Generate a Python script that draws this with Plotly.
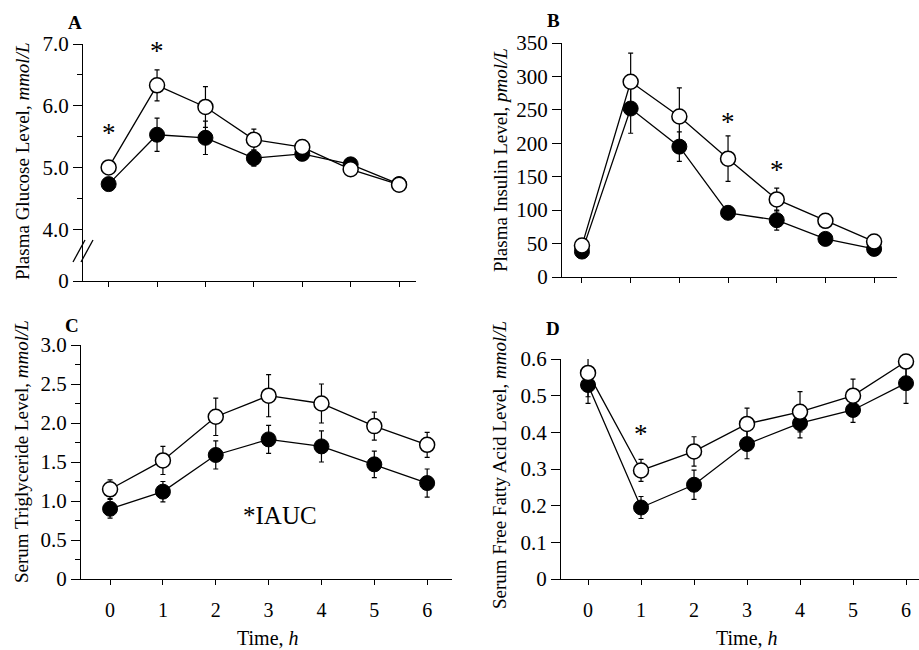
import plotly.graph_objects as go

W, H = 919, 650
FONT = "Liberation Serif, Times New Roman, serif"

hours = [0, 1, 2, 3, 4, 5, 6]
hour_labels = ["0", "1", "2", "3", "4", "5", "6"]

# Panel A - plasma glucose (mmol/L)
glu_open = [5.00, 6.33, 5.98, 5.45, 5.33, 4.97, 4.72]
glu_open_err = [0.05, 0.25, 0.33, 0.17, 0.06, 0.05, 0.04]
glu_fill = [4.73, 5.53, 5.48, 5.15, 5.22, 5.05, 4.73]
glu_fill_err = [0.05, 0.27, 0.27, 0.13, 0.10, 0.05, 0.04]
glu_ticks = [4.0, 5.0, 6.0, 7.0]
glu_ticktext = ["4.0", "5.0", "6.0", "7.0"]
glu_axis_zero = 3.16  # where the broken axis shows "0"
glu_star_t = [0, 1]
glu_star_y = [5.55, 6.88]

# Panel B - plasma insulin (pmol/L)
ins_open = [47, 292, 240, 177, 116, 84, 53]
ins_open_err = [5, 43, 43, 34, 17, 10, 5]
ins_fill = [38, 252, 195, 96, 85, 57, 42]
ins_fill_err = [4, 37, 22, 8, 15, 7, 4]
ins_ticks = [0, 50, 100, 150, 200, 250, 300, 350]
ins_star_t = [3, 4]
ins_star_y = [232, 160]

# Panel C - serum triglyceride (mmol/L)
tg_open = [1.15, 1.52, 2.08, 2.35, 2.25, 1.96, 1.72]
tg_open_err = [0.12, 0.18, 0.24, 0.27, 0.25, 0.18, 0.16]
tg_fill = [0.90, 1.12, 1.59, 1.79, 1.70, 1.47, 1.23]
tg_fill_err = [0.12, 0.13, 0.18, 0.18, 0.20, 0.17, 0.18]
tg_ticks = [0, 0.5, 1.0, 1.5, 2.0, 2.5, 3.0]
tg_ticktext = ["0", "0.5", "1.0", "1.5", "2.0", "2.5", "3.0"]

# Panel D - serum free fatty acid (mmol/L)
ffa_open = [0.562, 0.296, 0.348, 0.423, 0.456, 0.500, 0.593]
ffa_open_err = [0.065, 0.03, 0.04, 0.043, 0.055, 0.045, 0.05]
ffa_fill = [0.529, 0.195, 0.257, 0.368, 0.425, 0.461, 0.534]
ffa_fill_err = [0.05, 0.03, 0.04, 0.04, 0.04, 0.034, 0.055]
ffa_ticks = [0, 0.1, 0.2, 0.3, 0.4, 0.5, 0.6]
ffa_ticktext = ["0", "0.1", "0.2", "0.3", "0.4", "0.5", "0.6"]
ffa_star_t = [1]
ffa_star_y = [0.395]


def px_x(p):
    return p / W


def px_y(p):
    return 1 - p / H


fig = go.Figure()

panels = [
    ("", (83, 416), (281, 44), [-0.53, 6.35], glu_open, glu_open_err, glu_fill, glu_fill_err),
    ("2", (562, 897), (277, 43), [-0.41, 6.47], ins_open, ins_open_err, ins_fill, ins_fill_err),
    ("3", (81, 452), (579, 345), [-0.55, 6.47], tg_open, tg_open_err, tg_fill, tg_fill_err),
    ("4", (561, 919), (579, 359), [-0.51, 6.245], ffa_open, ffa_open_err, ffa_fill, ffa_fill_err),
]

layout_axes = {}
for i, (sfx, xd, yd, xr, o, oe, f, fe) in enumerate(panels):
    xa = "x" + sfx
    ya = "y" + sfx
    common_line = dict(color="black", width=1.3)
    fig.add_trace(go.Scatter(
        x=hours, y=f, xaxis=xa, yaxis=ya, mode="lines+markers",
        line=common_line, cliponaxis=False, showlegend=False, name="filled",
        marker=dict(size=15, color="black", line=dict(color="black", width=1)),
        error_y=dict(type="data", array=fe, color="black", thickness=1.2, width=2.5),
    ))
    fig.add_trace(go.Scatter(
        x=hours, y=o, xaxis=xa, yaxis=ya, mode="lines+markers",
        line=common_line, cliponaxis=False, showlegend=False, name="open",
        marker=dict(size=15, color="white", line=dict(color="black", width=1.5)),
        error_y=dict(type="data", array=oe, color="black", thickness=1.2, width=2.5),
    ))
    xkey = "xaxis" + sfx
    ykey = "yaxis" + sfx
    show_x_labels = i >= 2
    layout_axes[xkey] = dict(
        domain=[px_x(xd[0]), px_x(xd[1])], range=xr, anchor=ya, automargin=False,
        tickmode="array", tickvals=hours,
        ticktext=hour_labels if show_x_labels else [""] * 7,
        showticklabels=show_x_labels, ticklabelstandoff=8,
        ticks="outside", ticklen=5, tickwidth=1.2, tickcolor="black",
        showline=True, linecolor="black", linewidth=1.3,
        showgrid=False, zeroline=False,
        tickfont=dict(family=FONT, size=20, color="black"),
    )
    layout_axes[ykey] = dict(
        domain=[px_y(yd[0]), px_y(yd[1])], anchor=xa, automargin=False,
        ticks="outside", ticklen=9, tickwidth=1.2, tickcolor="black",
        showline=True, linecolor="black", linewidth=1.3,
        showgrid=False, zeroline=False,
        tickfont=dict(family=FONT, size=21, color="black"),
    )

layout_axes["yaxis"].update(
    range=[glu_axis_zero, 7.0], tickmode="array",
    tickvals=[glu_axis_zero] + glu_ticks, ticktext=["0"] + glu_ticktext,
    minor=dict(tickmode="array", tickvals=[4.5, 5.5, 6.5], ticklen=5, tickcolor="black", ticks="outside"),
)
layout_axes["yaxis2"].update(range=[0, 350], tickmode="array", tickvals=ins_ticks,
                             ticktext=[str(v) for v in ins_ticks])
layout_axes["yaxis3"].update(
    range=[0, 3.0], tickmode="array", tickvals=tg_ticks, ticktext=tg_ticktext,
    minor=dict(tickmode="array", tickvals=[0.25, 0.75, 1.25, 1.75, 2.25, 2.75],
               ticklen=5, tickcolor="black", ticks="outside"),
)
layout_axes["yaxis4"].update(range=[0, 0.6], tickmode="array", tickvals=ffa_ticks, ticktext=ffa_ticktext)

annotations = []
star_font = dict(family=FONT, size=27, color="black")
for t, y in zip(glu_star_t, glu_star_y):
    annotations.append(dict(x=t, y=y, xref="x", yref="y", text="*", showarrow=False, font=star_font))
for t, y in zip(ins_star_t, ins_star_y):
    annotations.append(dict(x=t, y=y, xref="x2", yref="y2", text="*", showarrow=False, font=star_font))
for t, y in zip(ffa_star_t, ffa_star_y):
    annotations.append(dict(x=t, y=y, xref="x4", yref="y4", text="*", showarrow=False, font=star_font))

annotations.append(dict(x=3.22, y=0.82, xref="x3", yref="y3", text="*IAUC", showarrow=False,
                        font=dict(family=FONT, size=25, color="black")))

letter_font = dict(family=FONT, size=19, color="black")
for txt, lx, ly in [("<b>A</b>", 75, 23), ("<b>B</b>", 553, 21), ("<b>C</b>", 72, 326), ("<b>D</b>", 553, 328)]:
    annotations.append(dict(x=px_x(lx), y=px_y(ly), xref="paper", yref="paper", text=txt,
                            showarrow=False, font=letter_font, xanchor="center", yanchor="middle"))

title_font = dict(family=FONT, size=19, color="black")
for txt, tx, ty in [
    ("Plasma Glucose Level, <i>mmol/L</i>", 22, 162),
    ("Plasma Insulin Level, <i>pmol/L</i>", 500, 160),
    ("Serum Triglyceride Level, <i>mmol/L</i>", 21, 452),
    ("Serum Free Fatty Acid Level, <i>mmol/L</i>", 499, 465),
]:
    annotations.append(dict(x=px_x(tx), y=px_y(ty), xref="paper", yref="paper", text=txt,
                            textangle=-90, showarrow=False, font=title_font,
                            xanchor="center", yanchor="middle"))

xt_font = dict(family=FONT, size=20, color="black")
for tx in [268, 747]:
    annotations.append(dict(x=px_x(tx), y=0.0, xref="paper", yref="paper", text="Time, <i>h</i>",
                            showarrow=False, font=xt_font, xanchor="center", yanchor="bottom",
                            borderpad=0))

# axis break marks on panel A
shapes = []
for dx in [-4, 4]:
    shapes.append(dict(type="line", xref="paper", yref="paper",
                       x0=px_x(77 + dx), y0=px_y(262), x1=px_x(89 + dx), y1=px_y(240),
                       line=dict(color="black", width=1.3)))

fig.update_layout(
    width=W, height=H, margin=dict(l=0, r=0, t=0, b=0, pad=0, autoexpand=False),
    paper_bgcolor="white", plot_bgcolor="white", showlegend=False,
    annotations=annotations, shapes=shapes,
    **layout_axes,
)

fig.write_html(
    "out.html",
    config={"displayModeBar": False},
    post_script="document.body.style.margin='0px';document.body.style.overflow='hidden';",
)
